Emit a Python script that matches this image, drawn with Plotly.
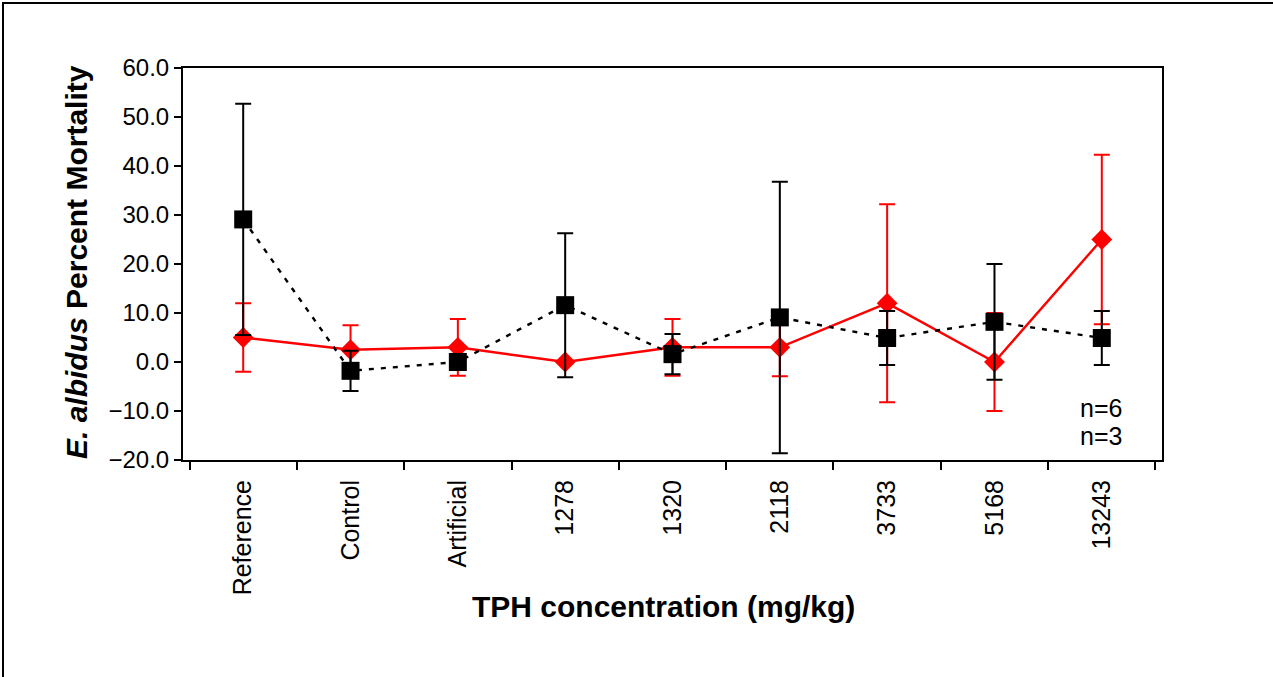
import plotly.graph_objects as go

categories = ["Reference", "Control", "Artificial", "1278", "1320", "2118", "3733", "5168", "13243"]
black_vals = [29.1, -1.8, 0.0, 11.6, 1.6, 9.1, 4.9, 8.2, 4.9]
black_err = [23.6, 4.1, 1.5, 14.7, 4.1, 27.7, 5.5, 11.8, 5.5]
red_vals = [5.0, 2.5, 3.0, 0.0, 3.0, 3.0, 12.0, 0.0, 25.0]
red_err = [7.0, 5.0, 5.8, 0.0, 5.8, 5.9, 20.2, 10.0, 17.3]
y_ticks = [-20, -10, 0, 10, 20, 30, 40, 50, 60]

W, H = 1273, 677
L, R, T, B = 183, 1162, 68, 460

def px(x):
    return (x - L) / (R - L)

def py(y):
    return (B - y) / (B - T)

FONT = "Arial, 'Liberation Sans', sans-serif"

fig = go.Figure()
fig.add_trace(go.Scatter(
    x=categories, y=red_vals, mode="lines+markers",
    line=dict(color="#FF0000", width=2.4),
    marker=dict(symbol="diamond", size=16, color="#FF0000"),
    error_y=dict(type="data", array=red_err, visible=True, color="#FF0000", thickness=2, width=8),
    showlegend=False,
))
fig.add_trace(go.Scatter(
    x=categories, y=black_vals, mode="lines+markers",
    line=dict(color="black", width=2.4, dash="5px,7px"),
    marker=dict(symbol="square", size=18, color="black"),
    error_y=dict(type="data", array=black_err, visible=True, color="black", thickness=2, width=8),
    showlegend=False,
))

fig.update_layout(
    width=W, height=H,
    margin=dict(l=L, r=W - R, t=T, b=H - B, pad=0),
    paper_bgcolor="white", plot_bgcolor="white",
    font=dict(family=FONT, color="black", size=24),
    xaxis=dict(
        type="category", tickson="boundaries", ticks="outside", ticklen=8, tickwidth=2,
        tickcolor="black", showline=True, linecolor="black", linewidth=2, mirror=True,
        showgrid=False, tickangle=-90, tickfont=dict(size=25), zeroline=False,
        ticklabelstandoff=8,
    ),
    yaxis=dict(
        range=[-20, 60], tickvals=y_ticks, tickformat=".1f", ticks="outside", ticklen=7,
        tickwidth=2, tickcolor="black", showline=True, linecolor="black", linewidth=2,
        mirror=True, showgrid=False, zeroline=False, tickfont=dict(size=24),
    ),
    shapes=[
        dict(type="rect", xref="paper", yref="paper", x0=px(3), x1=px(1300),
             y0=py(720), y1=py(3), line=dict(color="black", width=2), fillcolor="rgba(0,0,0,0)"),
    ],
    annotations=[
        dict(text="<b><i>E. albidus</i> Percent Mortality</b>", textangle=-90,
             xref="paper", yref="paper", x=px(76), y=py(262), showarrow=False,
             xanchor="center", yanchor="middle", font=dict(size=30)),
        dict(text="<b>TPH concentration (mg/kg)</b>", xref="paper", yref="paper",
             x=px(663), y=py(606), showarrow=False, xanchor="center", yanchor="middle",
             font=dict(size=30)),
        dict(text="n=6", xref="paper", yref="paper", x=px(1124), y=py(408), showarrow=False,
             xanchor="right", yanchor="middle", font=dict(size=25)),
        dict(text="n=3", xref="paper", yref="paper", x=px(1124), y=py(436), showarrow=False,
             xanchor="right", yanchor="middle", font=dict(size=25)),
    ],
)

fig.write_html("out.html", config={"displayModeBar": False},
               post_script="document.body.style.margin='0px';document.body.style.overflow='hidden';")
